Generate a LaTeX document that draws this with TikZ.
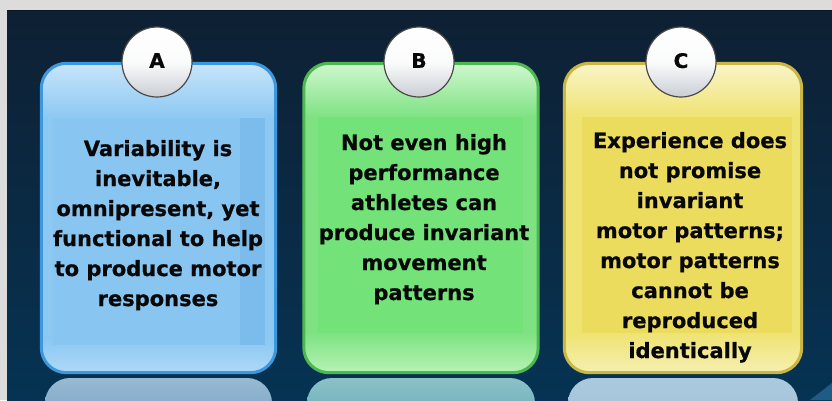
\documentclass[tikz,border=0pt]{standalone}
\usepackage{fontspec}
\setmainfont{DejaVu Sans}[BoldFeatures={FakeBold=0.7}]
\definecolor{frameG}{HTML}{DCDCDC}
\definecolor{navyT}{HTML}{0E2033}
\definecolor{navyB}{HTML}{063353}
\definecolor{borderA}{HTML}{3B97DE}
\definecolor{baseA}{HTML}{8CC8F2}
\definecolor{topA}{HTML}{C6E4FA}
\definecolor{botA}{HTML}{ACD8F7}
\definecolor{innerA}{HTML}{88C5F0}
\definecolor{stripA}{HTML}{7BBCEC}
\definecolor{reflA}{HTML}{6C9CC0}
\definecolor{borderB}{HTML}{4DB84F}
\definecolor{baseB}{HTML}{7EE283}
\definecolor{topB}{HTML}{CDF6CC}
\definecolor{botB}{HTML}{B4F2B2}
\definecolor{innerB}{HTML}{72E279}
\definecolor{reflB}{HTML}{5BA6B0}
\definecolor{borderC}{HTML}{CBB645}
\definecolor{baseC}{HTML}{EFE373}
\definecolor{topC}{HTML}{F9F4C6}
\definecolor{botC}{HTML}{F5EFAE}
\definecolor{innerC}{HTML}{EBDC5E}
\definecolor{reflC}{HTML}{9DC0D8}
\definecolor{wedgeC}{HTML}{1E5C84}
\definecolor{ringC}{HTML}{4A4A4A}
\definecolor{ballB}{HTML}{C9CED4}
\definecolor{inkC}{HTML}{080808}
\tikzset{
  panelbox/.style={rectangle, rounded corners=25pt, minimum width=234pt, minimum height=309pt, inner sep=0pt},
  badge/.style={circle, minimum size=70pt, inner sep=0pt, draw=ringC, line width=1.2pt,
     top color=white, bottom color=ballB, middle color=white!92!ballB,
     font=\fontsize{20}{24}\selectfont\bfseries, text=inkC},
  txt/.style={inner sep=0pt, font=\fontsize{21}{30}\selectfont\bfseries, text=inkC},
}
\begin{document}
\begin{tikzpicture}[x=1pt,y=-1pt]
\useasboundingbox (0,0) rectangle (832,400);
\fill[frameG] (0,0) rectangle (832,400);
\shade[top color=navyT, bottom color=navyB] (7,10) rectangle (832,400);
\draw[navyT!70!black, line width=1pt] (7,10.5) -- (832,10.5);
\fill[wedgeC] (810,400) -- (832,383) -- (832,400) -- cycle;

% reflections
\begin{scope}
\clip (7,10) rectangle (832,400);
\shade[top color=reflA!70!white, bottom color=reflA, rounded corners=25pt] (45,378) rectangle (272,440);
\shade[top color=reflB!70!white, bottom color=reflB, rounded corners=25pt] (307,378) rectangle (535,440);
\shade[top color=reflC!85!white, bottom color=reflC, rounded corners=25pt] (568,378) rectangle (798,440);
\end{scope}

% panel A
\node[panelbox, fill=baseA] (boxA) at (158.5,218) {};
\begin{scope}
\clip[rounded corners=23.5pt] (43,65) rectangle (274,371);
\shade[top color=topA, bottom color=baseA] (43,65) rectangle (274,118);
\shade[top color=baseA, bottom color=botA] (43,340) rectangle (274,371);
\fill[innerA] (53,118) rectangle (265,345);
\fill[stripA] (240,118) rectangle (265,345);
\end{scope}
\draw[borderA, line width=3pt, rounded corners=25pt] (boxA.north west) rectangle (boxA.south east);

% panel B
\node[panelbox, fill=baseB] (boxB) at (421,218) {};
\begin{scope}
\clip[rounded corners=23.5pt] (305,65) rectangle (537,371);
\shade[top color=topB, bottom color=baseB] (305,65) rectangle (537,117);
\shade[top color=baseB, bottom color=botB] (305,333) rectangle (537,371);
\fill[innerB] (318,117) rectangle (523,333);
\end{scope}
\draw[borderB, line width=3pt, rounded corners=25pt] (boxB.north west) rectangle (boxB.south east);

% panel C
\node[panelbox, fill=baseC, minimum width=237pt] (boxC) at (683,218) {};
\begin{scope}
\clip[rounded corners=23.5pt] (566,65) rectangle (800,371);
\shade[top color=topC, bottom color=baseC] (566,65) rectangle (800,117);
\shade[top color=baseC, bottom color=botC] (566,333) rectangle (800,371);
\fill[innerC] (582,117) rectangle (792,333);
\end{scope}
\draw[borderC, line width=3pt, rounded corners=25pt] (boxC.north west) rectangle (boxC.south east);

% badges
\node[badge] (cA) at (157,62) {\raisebox{3pt}{A}};
\node[badge] (cB) at (419,62) {\raisebox{3pt}{B}};
\node[badge] (cC) at (681,62) {\raisebox{3pt}{C}};

% texts
\node[txt, anchor=base] (tA) at (158,156) {\parbox[t]{240pt}{\centering
Variability is\\ inevitable,\\ omnipresent, yet\\ functional to help\\ to produce motor\\ responses}};
\node[txt, anchor=base] (tB) at (424,150) {\parbox[t]{240pt}{\centering
Not even high\\ performance\\ athletes can\\ produce invariant\\ movement\\ patterns}};
\node[txt, anchor=base] (tC) at (690,148) {\parbox[t]{240pt}{\centering
Experience does\\ not promise\\ invariant\\ motor patterns;\\ motor patterns\\ cannot be\\ reproduced\\ identically}};
\end{tikzpicture}
\end{document}
